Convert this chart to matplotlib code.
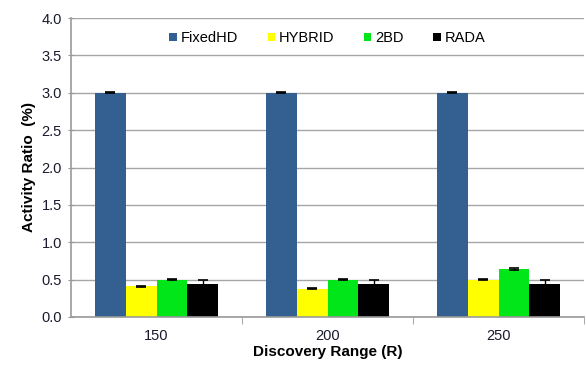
import numpy as np
import matplotlib
matplotlib.use("Agg")
import matplotlib.pyplot as plt

plt.rcParams["font.family"] = ["Liberation Sans", "DejaVu Sans"]

ranges = ["150", "200", "250"]
series = ["FixedHD", "HYBRID", "2BD", "RADA"]
fixedhd = [3.00, 3.00, 3.00]
hybrid = [0.41, 0.38, 0.50]
bd2 = [0.50, 0.50, 0.64]
rada = [0.44, 0.44, 0.44]
fixedhd_err = [0.005, 0.005, 0.005]
hybrid_err = [0.01, 0.01, 0.005]
bd2_err = [0.005, 0.005, 0.015]
rada_err = [0.05, 0.05, 0.05]

colors = ["#335F91", "#FFFF00", "#00E619", "#000000"]
values = [fixedhd, hybrid, bd2, rada]
errors = [fixedhd_err, hybrid_err, bd2_err, rada_err]

fig = plt.figure(figsize=(5.86, 3.67), dpi=100)
ax = fig.add_axes([71 / 586, 50 / 367, 513 / 586, 299 / 367])

x = np.arange(len(ranges))
width = 0.181
for i, (name, vals, errs, c) in enumerate(zip(series, values, errors, colors)):
    pos = x + (i - 1.5) * width
    ax.bar(pos, vals, width, color=c, label=name, zorder=2)
    ax.errorbar(pos, vals, yerr=errs, fmt="none", ecolor="black",
                elinewidth=1, capsize=3.5, capthick=1.2, zorder=3)

ax.set_xlim(-0.5, 2.5)
ax.set_ylim(0, 4.0)
ax.set_yticks(np.arange(0, 4.01, 0.5))
ax.set_yticklabels([f"{v:.1f}" for v in np.arange(0, 4.01, 0.5)])
ax.set_xticks(x)
ax.set_xticklabels(ranges)
ax.set_xticks([0.5, 1.5, 2.5], minor=True)
ax.tick_params(axis="x", which="major", length=0, labelsize=10.5, pad=9)
ax.tick_params(axis="x", which="minor", length=5, color="#999999", direction="out")
ax.tick_params(axis="y", length=5, color="#999999", direction="inout", labelsize=10.5, pad=4)
ax.tick_params(labelcolor="#1A1A2E")
ax.grid(axis="y", color="#A6A6A6", linewidth=1, zorder=0)
ax.set_axisbelow(True)

for s in ["top", "right"]:
    ax.spines[s].set_visible(False)
for s in ["left", "bottom"]:
    ax.spines[s].set_color("#999999")
    ax.spines[s].set_linewidth(1.2)

ax.set_xlabel("Discovery Range (R)", fontsize=11, fontweight="bold", labelpad=1)
ax.set_ylabel("Activity Ratio  (%)", fontsize=11, fontweight="bold", labelpad=4)

ax.legend(loc="upper center", bbox_to_anchor=(0.50, 1.0), ncol=4, frameon=False,
          fontsize=10.5, handlelength=0.5, handleheight=0.5, handletextpad=0.3,
          columnspacing=2.0)

fig.savefig("out.png", dpi=100)
